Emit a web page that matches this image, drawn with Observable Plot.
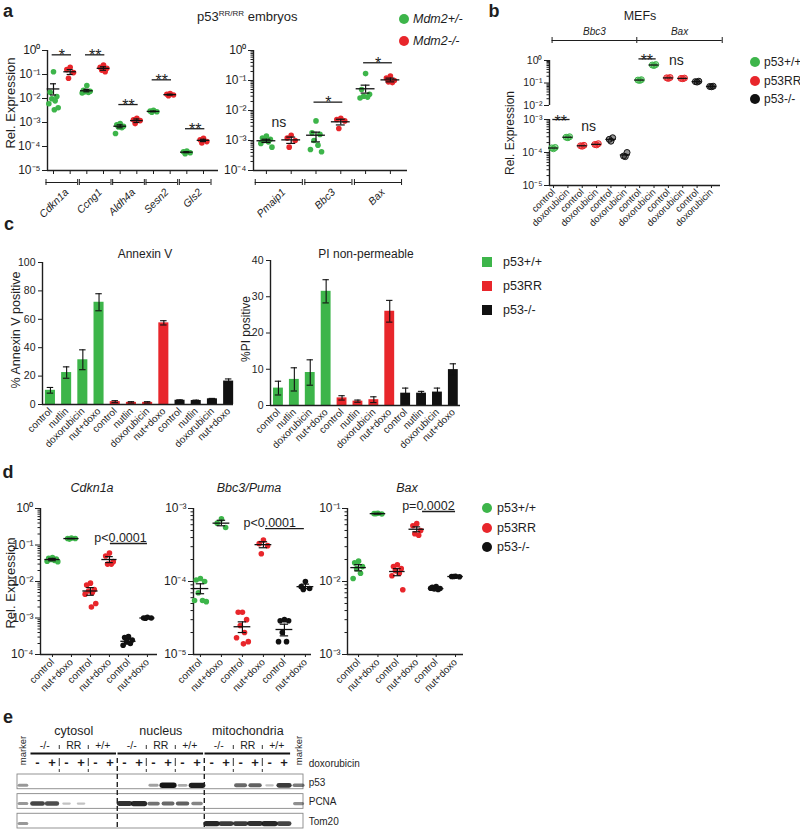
<!DOCTYPE html>
<html><head><meta charset="utf-8">
<script src="https://cdn.jsdelivr.net/npm/d3@7"></script>
<script src="https://cdn.jsdelivr.net/npm/@observablehq/plot@0.6"></script>
<style>
html,body{margin:0;padding:0;background:#fff;}
#fig{position:relative;width:800px;height:836px;overflow:hidden;font-family:"Liberation Sans",Arial,Helvetica,sans-serif;background:#fff;}
#fig svg{position:absolute;left:0;top:0;}
</style></head><body><div id="fig"></div>
<script>
// ================= DATA =================
// Panel a: p53 RR/RR embryos, Mdm2+/- vs Mdm2-/-
const aLegend = ["Mdm2+/-", "Mdm2-/-"];
const aGenesL = ["Cdkn1a", "Ccng1", "Aldh4a", "Sesn2", "Gls2"];
const aHetL = [
  [0.13, 0.018, 0.012, 0.0098, 0.008, 0.006, 0.0041, 0.0034],
  [0.035, 0.022, 0.02, 0.019, 0.018, 0.017],
  [0.0009, 0.0008, 0.0007, 0.00065, 0.0006, 0.00035],
  [0.0032, 0.003, 0.0028, 0.0027],
  [6.5e-5, 6e-5, 5.5e-5, 5e-5]
];
const aNullL = [
  [0.2, 0.16, 0.12, 0.07],
  [0.25, 0.2, 0.18, 0.15, 0.13],
  [0.0015, 0.0013, 0.0012, 0.0009],
  [0.016, 0.015, 0.014, 0.013],
  [2.2e-4, 1.9e-4, 1.6e-4, 1.4e-4]
];
const aHetMeanL = [0.025, 0.021, 0.0007, 0.0029, 5.8e-5];
const aHetSemL = [[0.014, 0.041], [0.019, 0.024], [0.0006, 0.0008], [0.0028, 0.003], [5.5e-5, 6.1e-5]];
const aNullMeanL = [0.13, 0.18, 0.0012, 0.0145, 1.8e-4];
const aNullSemL = [[0.1, 0.16], [0.15, 0.21], [0.001, 0.0014], [0.0138, 0.0152], [1.6e-4, 2.0e-4]];
const aSigL = ["*", "**", "**", "**", "**"];
const aSigLevelL = [0.66, 0.66, 0.0056, 0.06, 0.00055];

const aGenesR = ["Pmaip1", "Bbc3", "Bax"];
const aHetR = [
  [0.0014, 0.0012, 0.0011, 0.001, 0.0009, 0.0008, 0.0006],
  [0.0045, 0.0018, 0.0016, 0.001, 0.0007, 0.0005, 0.00042],
  [0.17, 0.05, 0.035, 0.03, 0.028, 0.026]
];
const aNullR = [
  [0.0015, 0.0012, 0.001, 0.0006],
  [0.0055, 0.005, 0.0045, 0.0025],
  [0.14, 0.12, 0.1, 0.09, 0.085]
];
const aHetMeanR = [0.00098, 0.0015, 0.053];
const aHetSemR = [[0.00086, 0.0011], [0.0009, 0.0019], [0.038, 0.07]];
const aNullMeanR = [0.00105, 0.0042, 0.105];
const aNullSemR = [[0.0008, 0.0013], [0.0033, 0.0051], [0.09, 0.12]];
const aSigR = ["ns", "*", "*"];
const aSigLevelR = [0.0043, 0.019, 0.39];

// Panel b: MEFs
const bGenes = ["Bbc3", "Bax"];
const bGeno = ["p53+/+", "p53RR", "p53-/-"];
const bTreat = ["control", "doxorubicin"];
const bBbc3 = [[1.3e-4, 1.38e-4, 1.42e-4], [2.8e-4, 2.9e-4, 3.0e-4], [1.55e-4, 1.6e-4, 1.65e-4],
               [1.7e-4, 1.75e-4, 1.85e-4], [2.2e-4, 2.5e-4, 2.8e-4], [7.5e-5, 7.8e-5, 1.0e-4]];
const bBax = [[0.13, 0.135, 0.14], [0.6, 0.63, 0.66], [0.16, 0.17, 0.175],
              [0.155, 0.16, 0.165], [0.11, 0.115, 0.12], [0.068, 0.07, 0.072]];

// Panel c: apoptosis
const cGeno = ["p53+/+", "p53RR", "p53-/-"];
const cTreat = ["control", "nutlin", "doxorubicin", "nut+doxo"];
const annexinMean = [10, 22.5, 31.5, 72, 2, 1.5, 1.5, 57.5, 3, 2.8, 4, 16.5];
const annexinErr = [2, 4, 7, 6, 0.7, 0.5, 0.5, 1.5, 0.3, 0.3, 0.3, 1.5];
const piMean = [4.8, 7.2, 9.1, 31.5, 2.1, 1.2, 1.6, 26, 3.4, 3.4, 3.7, 9.9];
const piErr = [1.9, 3.2, 3.5, 3.2, 0.6, 0.3, 0.8, 3, 1.4, 0.5, 1.1, 1.6];

// Panel d: nutlin + doxorubicin
const dGenes = ["Cdkn1a", "Bbc3/Puma", "Bax"];
const dTreat = ["control", "nut+doxo"];
const dCdkn1a = [
  [0.045, 0.043, 0.041, 0.04, 0.038, 0.036, 0.035], [0.155, 0.15, 0.15, 0.145],
  [0.009, 0.008, 0.006, 0.0055, 0.005, 0.0045, 0.0025, 0.002], [0.06, 0.05, 0.035, 0.03, 0.03],
  [0.00031, 0.00029, 0.00025, 0.00022, 0.0002, 0.00018], [0.00105, 0.001, 0.001, 0.00098]
];
const dCdkn1aMean = [0.04, 0.15, 0.0055, 0.04, 0.00023, 0.001];
const dCdkn1aSem = [[0.037, 0.043], [0.148, 0.152], [0.0042, 0.0068], [0.033, 0.048], [0.0002, 0.00026], [0.00098, 0.00103]];
const dBbc3 = [
  [1.1e-4, 1.05e-4, 1.0e-4, 7e-5, 5.5e-5, 5.5e-5, 5.3e-5], [7.2e-4, 6.3e-4, 5.5e-4],
  [3.8e-5, 3.8e-5, 3.0e-5, 2.5e-5, 2.0e-5, 1.7e-5, 1.5e-5, 1.4e-5], [3.7e-4, 3.3e-4, 3.1e-4, 2.4e-4],
  [3.0e-5, 2.9e-5, 2.9e-5, 2.0e-5, 1.5e-5, 1.5e-5], [1.0e-4, 8.5e-5, 8.0e-5, 7.8e-5]
];
const dBbc3Mean = [8e-5, 6.3e-4, 2.4e-5, 3.2e-4, 2.2e-5, 8.5e-5];
const dBbc3Sem = [[6.8e-5, 9.3e-5], [5.8e-4, 6.9e-4], [2.0e-5, 2.8e-5], [2.9e-4, 3.5e-4], [1.8e-5, 2.6e-5], [8.0e-5, 9.2e-5]];
const dBax = [
  [0.019, 0.018, 0.016, 0.015, 0.013, 0.011], [0.086, 0.085, 0.084, 0.085],
  [0.017, 0.016, 0.015, 0.014, 0.013, 0.012, 0.0077], [0.062, 0.058, 0.05, 0.045, 0.043],
  [0.0085, 0.0083, 0.008, 0.0079, 0.0078, 0.0081], [0.0118, 0.0117, 0.0116, 0.0117]
];
const dBaxMean = [0.0155, 0.085, 0.0137, 0.052, 0.008, 0.0117];
const dBaxSem = [[0.014, 0.017], [0.084, 0.086], [0.012, 0.015], [0.048, 0.056], [0.0078, 0.0082], [0.0116, 0.0118]];
const dSigText = ["p<0.0001", "p<0.0001", "p=0.0002"];
const dSigLevel = [0.11, 5.3e-4, 0.091];

// Panel e: western blot (relative band intensity per lane; lane 0 and 19 = marker)
const eFractions = ["cytosol", "nucleus", "mitochondria"];
const eGenotypes = ["-/-", "RR", "+/+"];
const eDoxo = ["-", "+"];
const eRows = ["p53", "PCNA", "Tom20"];
const eP53 =   [0.3, 0, 0, 0, 0, 0, 0,   0, 0, 0.25, 1, 0.2, 0.95,   0, 0, 0.55, 0.6, 0.08, 0.8,   0.45];
const ePCNA =  [0.3, 0.75, 0.7, 0.08, 0.08, 0, 0,   0.85, 0.9, 0.5, 0.55, 0.6, 0.4,   0, 0, 0, 0, 0, 0,   0.35];
const eTom20 = [0.3, 0, 0, 0, 0, 0, 0,   0, 0, 0, 0, 0, 0,   0.9, 0.8, 0.8, 0.85, 0.9, 0.75,   0];

// ================= HELPERS =================
const FONT = '"Liberation Sans", Arial, Helvetica, sans-serif';
const GREEN = "#3db54a", RED = "#e8262b", BLACK = "#111111", TXT = "#1e1e1e";
const genoColor = [GREEN, RED, BLACK];
const fig = document.getElementById("fig");
const SUP = {"0":"⁰","1":"¹","2":"²","3":"³","4":"⁴","5":"⁵","6":"⁶","7":"⁷","8":"⁸","9":"⁹","-":"⁻"};
const fmtPow = v => "10" + String(Math.round(Math.log10(v))).split("").map(c => SUP[c]).join("");
const decades = dom => d3.range(Math.round(Math.log10(dom[0])), Math.round(Math.log10(dom[1])) + 1).map(e => 10 ** e);
const minors = dom => {
  const out = [];
  for (let e = Math.round(Math.log10(dom[0])); e < Math.round(Math.log10(dom[1])); e++)
    for (let m = 2; m <= 9; m++) out.push(m * 10 ** e);
  return out;
};
const JIT = [0, -0.2, 0.2, -0.1, 0.1, -0.28, 0.28, 0.05, -0.05];
// value of a log y scale at a page pixel (for annotations placed in the margins)
const logPx = (fr, dom, px) => {
  const a = Math.log10(dom[0]), b = Math.log10(dom[1]);
  return 10 ** (a + (fr.b - px) / (fr.b - fr.t) * (b - a));
};

function base(fr, opts) {
  const svg = Plot.plot({
    width: 800, height: 836,
    marginLeft: fr.l, marginRight: 800 - fr.r, marginTop: fr.t, marginBottom: 836 - fr.b,
    style: {background: "transparent", overflow: "visible", fontFamily: FONT, color: TXT},
    color: {type: "identity"},
    ...opts
  });
  fig.appendChild(svg);
  return svg;
}

function txt(s, x, y, o = {}) {
  const d = document.createElement("div");
  const anchor = o.anchor || "middle";
  const tx = anchor === "start" ? "0%" : anchor === "end" ? "-100%" : "-50%";
  d.style.cssText = `position:absolute;left:${x}px;top:${y}px;font-size:${o.size || 12}px;line-height:1;white-space:nowrap;` +
    `font-weight:${o.weight || "normal"};font-style:${o.italic ? "italic" : "normal"};color:${TXT};` +
    `transform:translate(${tx},-50%)${o.rotate ? ` rotate(${o.rotate}deg)` : ""};`;
  if (o.html) d.innerHTML = s; else d.textContent = s;
  fig.appendChild(d);
}
function swatch(x, y, size, color, round) {
  const d = document.createElement("div");
  d.style.cssText = `position:absolute;left:${x - size / 2}px;top:${y - size / 2}px;width:${size}px;height:${size}px;background:${color};border-radius:${round ? "50%" : "0"};`;
  fig.appendChild(d);
}

function scatter(o) {
  const {fr, xdom, ydom, cols} = o;
  const pts = cols.flatMap(c => c.pts.map((v, k) => ({x: c.col + JIT[k % JIT.length] * (o.spread ?? 1), v, color: c.color})));
  const stats = cols.filter(c => c.mean != null);
  const mw = o.meanW ?? 0.38, cw = o.capW ?? 0.18;
  const marks = [Plot.ruleX([xdom[0]], {stroke: TXT, strokeWidth: 1.4})];
  if (o.xLine !== false) marks.push(Plot.ruleY([ydom[0]], {stroke: TXT, strokeWidth: 1.4}));
  marks.push(Plot.axisY({ticks: decades(ydom), tickFormat: fmtPow, tickSize: 5, tickPadding: 2, fontSize: o.tickFont ?? 12, label: null}));
  if (o.minor) marks.push(Plot.axisY({ticks: minors(ydom), tickFormat: () => "", tickSize: 2.5, label: null}));
  if (o.xAxis) marks.push(...o.xAxis);
  marks.push(Plot.dot(pts, {x: "x", y: "v", fill: "color", r: o.r ?? 2.6, ...(o.dot || {})}));
  if (stats.length) {
    marks.push(Plot.ruleY(stats, {y: "mean", x1: d => d.col - mw, x2: d => d.col + mw, stroke: "#111", strokeWidth: 1.3}));
    if (o.sem !== false) {
      marks.push(Plot.ruleX(stats, {x: "col", y1: "lo", y2: "hi", stroke: "#111", strokeWidth: 1.2}));
      marks.push(Plot.ruleY(stats, {y: "lo", x1: d => d.col - cw, x2: d => d.col + cw, stroke: "#111", strokeWidth: 1.2}));
      marks.push(Plot.ruleY(stats, {y: "hi", x1: d => d.col - cw, x2: d => d.col + cw, stroke: "#111", strokeWidth: 1.2}));
    }
  }
  if (o.extra) marks.push(...o.extra);
  return base(fr, {x: {domain: xdom, ...(o.xAxis ? {} : {axis: null})}, y: {type: "log", domain: ydom}, marks});
}

// grouped gene axis for panel a
function geneAxis(fr, ydom, genes) {
  const groups = genes.map((t, i) => ({t, xm: 2 * i + 0.5, x1: 2 * i - 0.45, x2: 2 * i + 1.45}));
  const caps = groups.flatMap(g => [g.x1, g.x2]);
  return [
    Plot.axisX({ticks: d3.range(2 * genes.length), tickFormat: () => "", tickSize: 4, label: null}),
    Plot.ruleY(groups, {y: logPx(fr, ydom, fr.b + 12), x1: "x1", x2: "x2", stroke: TXT, strokeWidth: 1}),
    Plot.ruleX(caps, {x: d => d, y1: logPx(fr, ydom, fr.b + 9), y2: logPx(fr, ydom, fr.b + 15), stroke: TXT, strokeWidth: 1}),
    Plot.text(groups, {x: "xm", y: logPx(fr, ydom, fr.b + 20), text: "t", rotate: -45, textAnchor: "end", fontStyle: "italic", fontSize: 10.5, dx: 5})
  ];
}
function sigMarks(sig, fontSize = 16, dy = 6) {
  return [
    Plot.ruleY(sig.filter(d => d.line), {y: "y", x1: "x1", x2: "x2", stroke: TXT, strokeWidth: 1.3}),
    Plot.text(sig, {x: "xm", y: "y", text: "t", fontSize: d => d.t === "ns" ? 14 : fontSize, lineAnchor: "bottom", dy: dy})
  ];
}

// ================= PANEL a =================
{
  const fr = {l: 47, r: 218, t: 50, b: 170}, ydom = [1e-5, 1];
  const cols = aGenesL.flatMap((g, i) => [
    {col: 2 * i, pts: aHetL[i], color: GREEN, mean: aHetMeanL[i], lo: aHetSemL[i][0], hi: aHetSemL[i][1]},
    {col: 2 * i + 1, pts: aNullL[i], color: RED, mean: aNullMeanL[i], lo: aNullSemL[i][0], hi: aNullSemL[i][1]}
  ]);
  const sig = aGenesL.map((g, i) => ({t: aSigL[i], y: aSigLevelL[i], xm: 2 * i + 0.5, x1: 2 * i - 0.08, x2: 2 * i + 1.08, line: aSigL[i] !== "ns"}));
  scatter({fr, xdom: [-0.36, 9.9], ydom, cols, r: 2.8, xAxis: geneAxis(fr, ydom, aGenesL), extra: sigMarks(sig)});
}
{
  const fr = {l: 253, r: 407, t: 50, b: 170}, ydom = [1e-4, 1];
  const cols = aGenesR.flatMap((g, i) => [
    {col: 2 * i, pts: aHetR[i], color: GREEN, mean: aHetMeanR[i], lo: aHetSemR[i][0], hi: aHetSemR[i][1]},
    {col: 2 * i + 1, pts: aNullR[i], color: RED, mean: aNullMeanR[i], lo: aNullSemR[i][0], hi: aNullSemR[i][1]}
  ]);
  const sig = aGenesR.map((g, i) => ({t: aSigR[i], y: aSigLevelR[i], xm: 2 * i + 0.5, x1: 2 * i - 0.08, x2: 2 * i + 1.08, line: aSigR[i] !== "ns"}));
  scatter({fr, xdom: [-0.52, 5.69], ydom, cols, r: 2.8, minor: true, spread: 0.8, xAxis: geneAxis(fr, ydom, aGenesR), extra: sigMarks(sig)});
}
txt("a", 8, 11, {size: 18, weight: "bold"});
txt("p53<sup style='font-size:8px;vertical-align:5px'>RR/RR</sup> embryos", 197, 16, {size: 13, anchor: "start", html: true});
aLegend.forEach((s, i) => { swatch(404, 19 + 22 * i, 10, [GREEN, RED][i], true); txt(s, 413, 19 + 22 * i, {size: 12.5, italic: true, anchor: "start"}); });
txt("Rel. Expression", 10, 103, {size: 13, rotate: -90});

// ================= PANEL b =================
{
  const X = [-0.28, 11.63];
  const mk = (vals, g) => vals.map((pts, j) => ({col: 6 * g + j, pts, color: genoColor[Math.floor(j / 2)], mean: d3.mean(pts)}));
  const dotStyle = {stroke: "color", strokeWidth: 1, fillOpacity: 0.45, r: 3};
  const frU = {l: 549, r: 720, t: 60, b: 105}, domU = [1e-2, 1];
  const brackets = bGenes.map((g, i) => ({t: g, x1: i === 0 ? -0.1 : 5.8, x2: i === 0 ? 5.8 : 11.75}));
  const bCaps = [-0.1, 5.8, 11.75];
  const sigU = [{t: "**", y: 1.18, xm: 6.5, x1: 5.95, x2: 7.15, line: true}, {t: "ns", y: logPx(frU, domU, 57), xm: 8.55, line: false}];
  scatter({fr: frU, xdom: X, ydom: domU, cols: mk(bBax, 1), minor: true, xLine: false, sem: false, meanW: 0.35, tickFont: 10.5, dot: dotStyle, spread: 0.6,
    extra: [
      Plot.ruleY(brackets, {y: logPx(frU, domU, 40), x1: "x1", x2: "x2", stroke: TXT, strokeWidth: 1}),
      Plot.ruleX(bCaps, {x: d => d, y1: logPx(frU, domU, 37), y2: logPx(frU, domU, 43), stroke: TXT, strokeWidth: 1}),
      Plot.text(brackets, {x: d => (d.x1 + d.x2) / 2, y: logPx(frU, domU, 31), text: "t", fontStyle: "italic", fontSize: 10}),
      ...sigMarks(sigU, 16, 7)
    ]});
  const frL = {l: 549, r: 720, t: 119, b: 185}, domL = [1e-5, 1e-3];
  const sigL = [{t: "**", y: 1.0e-3, xm: 0.5, x1: -0.05, x2: 1.15, line: true}, {t: "ns", y: logPx(frL, domL, 123), xm: 2.45, line: false}];
  scatter({fr: frL, xdom: X, ydom: domL, cols: mk(bBbc3, 0), minor: true, sem: false, meanW: 0.35, tickFont: 10.5, dot: dotStyle, spread: 0.6,
    xAxis: [Plot.axisX({ticks: d3.range(12), tickFormat: i => bTreat[i % 2], tickRotate: -45, tickSize: 3, tickPadding: 2, fontSize: 9.5, label: null})],
    extra: sigMarks(sigL, 16, 7)});
}
txt("b", 494, 11, {size: 18, weight: "bold"});
txt("MEFs", 640, 16, {size: 12.5});
txt("Rel. Expression", 510, 133, {size: 12, rotate: -90});
bGeno.forEach((s, i) => { swatch(755, 62 + 18.5 * i, 10, genoColor[i], true); txt(s, 764, 62 + 18.5 * i, {size: 12, anchor: "start"}); });

// ================= PANEL c =================
function bars(fr, xdom, ydom, ticks, means, errs) {
  const data = means.map((v, i) => ({i, v, e: errs[i], color: genoColor[Math.floor(i / 4)], lab: cTreat[i % 4]}));
  const hw = 0.31, cw = 0.2;
  return base(fr, {
    x: {domain: xdom}, y: {domain: ydom},
    marks: [
      Plot.rect(data, {x1: d => d.i - hw, x2: d => d.i + hw, y1: 0, y2: "v", fill: "color"}),
      Plot.ruleX(data, {x: "i", y1: d => Math.max(0, d.v - d.e), y2: d => d.v + d.e, stroke: "#111", strokeWidth: 1.1}),
      Plot.ruleY(data, {y: d => d.v + d.e, x1: d => d.i - cw, x2: d => d.i + cw, stroke: "#111", strokeWidth: 1.1}),
      Plot.ruleY(data, {y: d => Math.max(0, d.v - d.e), x1: d => d.i - cw, x2: d => d.i + cw, stroke: "#111", strokeWidth: 1.1}),
      Plot.ruleX([xdom[0]], {stroke: TXT, strokeWidth: 1.4}),
      Plot.ruleY([0], {stroke: TXT, strokeWidth: 1.4}),
      Plot.axisY({ticks, tickSize: 4, tickPadding: 3, fontSize: 10.5, label: null}),
      Plot.axisX({ticks: d3.range(12), tickFormat: i => cTreat[i % 4], tickRotate: -45, tickSize: 0, tickPadding: 5, fontSize: 10, label: null})
    ]
  });
}
bars({l: 42, r: 233, t: 262, b: 404}, [-0.49, 11.3], [0, 100], [0, 20, 40, 60, 80, 100], annexinMean, annexinErr);
bars({l: 270, r: 460, t: 260, b: 405}, [-0.5, 11.45], [0, 40], [0, 10, 20, 30, 40], piMean, piErr);
txt("c", 9, 224, {size: 18, weight: "bold"});
txt("Annexin V", 145, 254, {size: 12});
txt("PI non-permeable", 366, 254, {size: 12});
txt("% Annexin V positive", 16, 330, {size: 12.5, rotate: -90});
txt("%PI positive", 246, 329, {size: 12, rotate: -90});
cGeno.forEach((s, i) => { swatch(487, 262 + 24 * i, 10, genoColor[i], false); txt(s, 503, 262 + 24 * i, {size: 12.5, anchor: "start"}); });

// ================= PANEL d =================
{
  const frames = [
    {fr: {l: 40, r: 157, t: 508, b: 654}, xdom: [-0.63, 5.53], ydom: [1e-4, 1], vals: dCdkn1a, mean: dCdkn1aMean, sem: dCdkn1aSem, sig: {xm: 3.58, x1: 3.05, x2: 5.0}},
    {fr: {l: 193, r: 311, t: 508, b: 654}, xdom: [-0.33, 5.29], ydom: [1e-5, 1e-3], vals: dBbc3, mean: dBbc3Mean, sem: dBbc3Sem, sig: {xm: 3.3, x1: 3.1, x2: 4.95}},
    {fr: {l: 347, r: 463, t: 508, b: 654}, xdom: [-0.57, 5.41], ydom: [1e-3, 1e-1], vals: dBax, mean: dBaxMean, sem: dBaxSem, sig: {xm: 3.6, x1: 3.3, x2: 5.0}}
  ];
  frames.forEach((p, gi) => {
    const cols = p.vals.map((pts, j) => ({col: j, pts, color: genoColor[Math.floor(j / 2)], mean: p.mean[j], lo: p.sem[j][0], hi: p.sem[j][1]}));
    const sig = [{t: dSigText[gi], y: dSigLevel[gi], ...p.sig}];
    scatter({fr: p.fr, xdom: p.xdom, ydom: p.ydom, cols, minor: true, r: 2.8, meanW: 0.4, capW: 0.2,
      xAxis: [Plot.axisX({ticks: d3.range(6), tickFormat: i => dTreat[i % 2], tickRotate: -45, tickSize: 3, tickPadding: 3, fontSize: 10, label: null})],
      extra: [
        Plot.ruleY(sig, {y: "y", x1: "x1", x2: "x2", stroke: TXT, strokeWidth: 1.3}),
        Plot.text(sig, {x: "xm", y: "y", text: "t", fontSize: 12.5, lineAnchor: "bottom", dy: -1.5})
      ]});
  });
}
txt("d", 8, 472, {size: 18, weight: "bold"});
[92, 249, 407].forEach((x, i) => txt(dGenes[i], x, 488, {size: 12.5, italic: true}));
txt("Rel. Expression", 10, 583, {size: 13, rotate: -90});
bGeno.forEach((s, i) => { swatch(487, 508 + 19.5 * i, 10, genoColor[i], true); txt(s, 497, 508 + 19.5 * i, {size: 12.5, anchor: "start"}); });

// ================= PANEL e =================
{
  const fr = {l: 17, r: 303, t: 774, b: 828};
  const unit = (fr.b - fr.t) / 2.75;
  const eY = px => (px - fr.t) / unit;
  const rowsData = eRows.map((r, i) => ({r, y1: i, y2: i + 0.75, yc: i + 0.4}));
  const bandPos = [0.55, 0.48, 0.5];
  const bands = [eP53, ePCNA, eTom20].flatMap((row, ri) => row.map((v, lane) => ({lane, v, yc: ri + bandPos[ri]})).filter(d => d.v > 0))
    .map(d => ({...d, w: 0.2 + 0.2 * d.v, h: 2 + 3.5 * d.v, o: 0.2 + 0.8 * d.v}));
  const frac = eFractions.map((t, f) => ({t, f}));
  const geno = eFractions.flatMap((_, f) => eGenotypes.map((t, k) => ({t, x: 6 * f + 2 * k + 1.5})));
  const signs = d3.range(1, 19).map(i => ({t: eDoxo[(i - 1) % 2], x: i}));
  const pairSep = eFractions.flatMap((_, f) => [6 * f + 2.5, 6 * f + 4.5]);
  const svg = base(fr, {
    x: {domain: [-0.38, 19.34], axis: null}, y: {domain: [2.75, 0], axis: null},
    marks: [
      Plot.rect(rowsData, {x1: -0.38, x2: 19.34, y1: "y1", y2: "y2", fill: "none", stroke: "#888", strokeWidth: 0.9}),
      Plot.link(bands, {x1: d => d.lane - d.w, x2: d => d.lane + d.w, y1: "yc", y2: "yc", stroke: "#151515", strokeOpacity: "o", strokeWidth: "h", strokeLinecap: "round"}),
      Plot.ruleX([6.5, 12.5], {y1: eY(758), y2: 2.75, stroke: "#222", strokeWidth: 1.4, strokeDasharray: "5,3"}),
      Plot.ruleX(pairSep, {y1: eY(758), y2: eY(766), stroke: "#333", strokeWidth: 1}),
      Plot.ruleX(pairSep, {y1: eY(745), y2: eY(749), stroke: "#333", strokeWidth: 1}),
      Plot.ruleX(pairSep, {y1: eY(769), y2: eY(772), stroke: "#333", strokeWidth: 1}),
      Plot.ruleY(frac, {y: eY(753), x1: d => 6 * d.f + 0.55, x2: d => 6 * d.f + 6.45, stroke: "#111", strokeWidth: 2}),
      Plot.text(frac, {x: d => 6 * d.f + 3.5, y: eY(730), text: "t", fontSize: 12.5}),
      Plot.text(geno, {x: "x", y: eY(745), text: "t", fontSize: 10.5}),
      Plot.text(signs, {x: "x", y: eY(762), text: "t", fontSize: 13, fontWeight: "bold"}),
      Plot.text(["marker", "marker"], {x: (d, i) => i * 19, y: eY(750), text: d => d, rotate: -90, fontSize: 9.5}),
      Plot.text(["doxorubicin"], {x: 19.7, y: eY(763), text: d => d, textAnchor: "start", fontSize: 10}),
      Plot.text(rowsData, {x: 19.7, y: "yc", text: "r", textAnchor: "start", fontSize: 10})
    ]
  });
  d3.select(svg).selectAll('g[aria-label="link"]').style("filter", "blur(0.7px)");
}
txt("e", 8, 717, {size: 18, weight: "bold"});
</script></body></html>
